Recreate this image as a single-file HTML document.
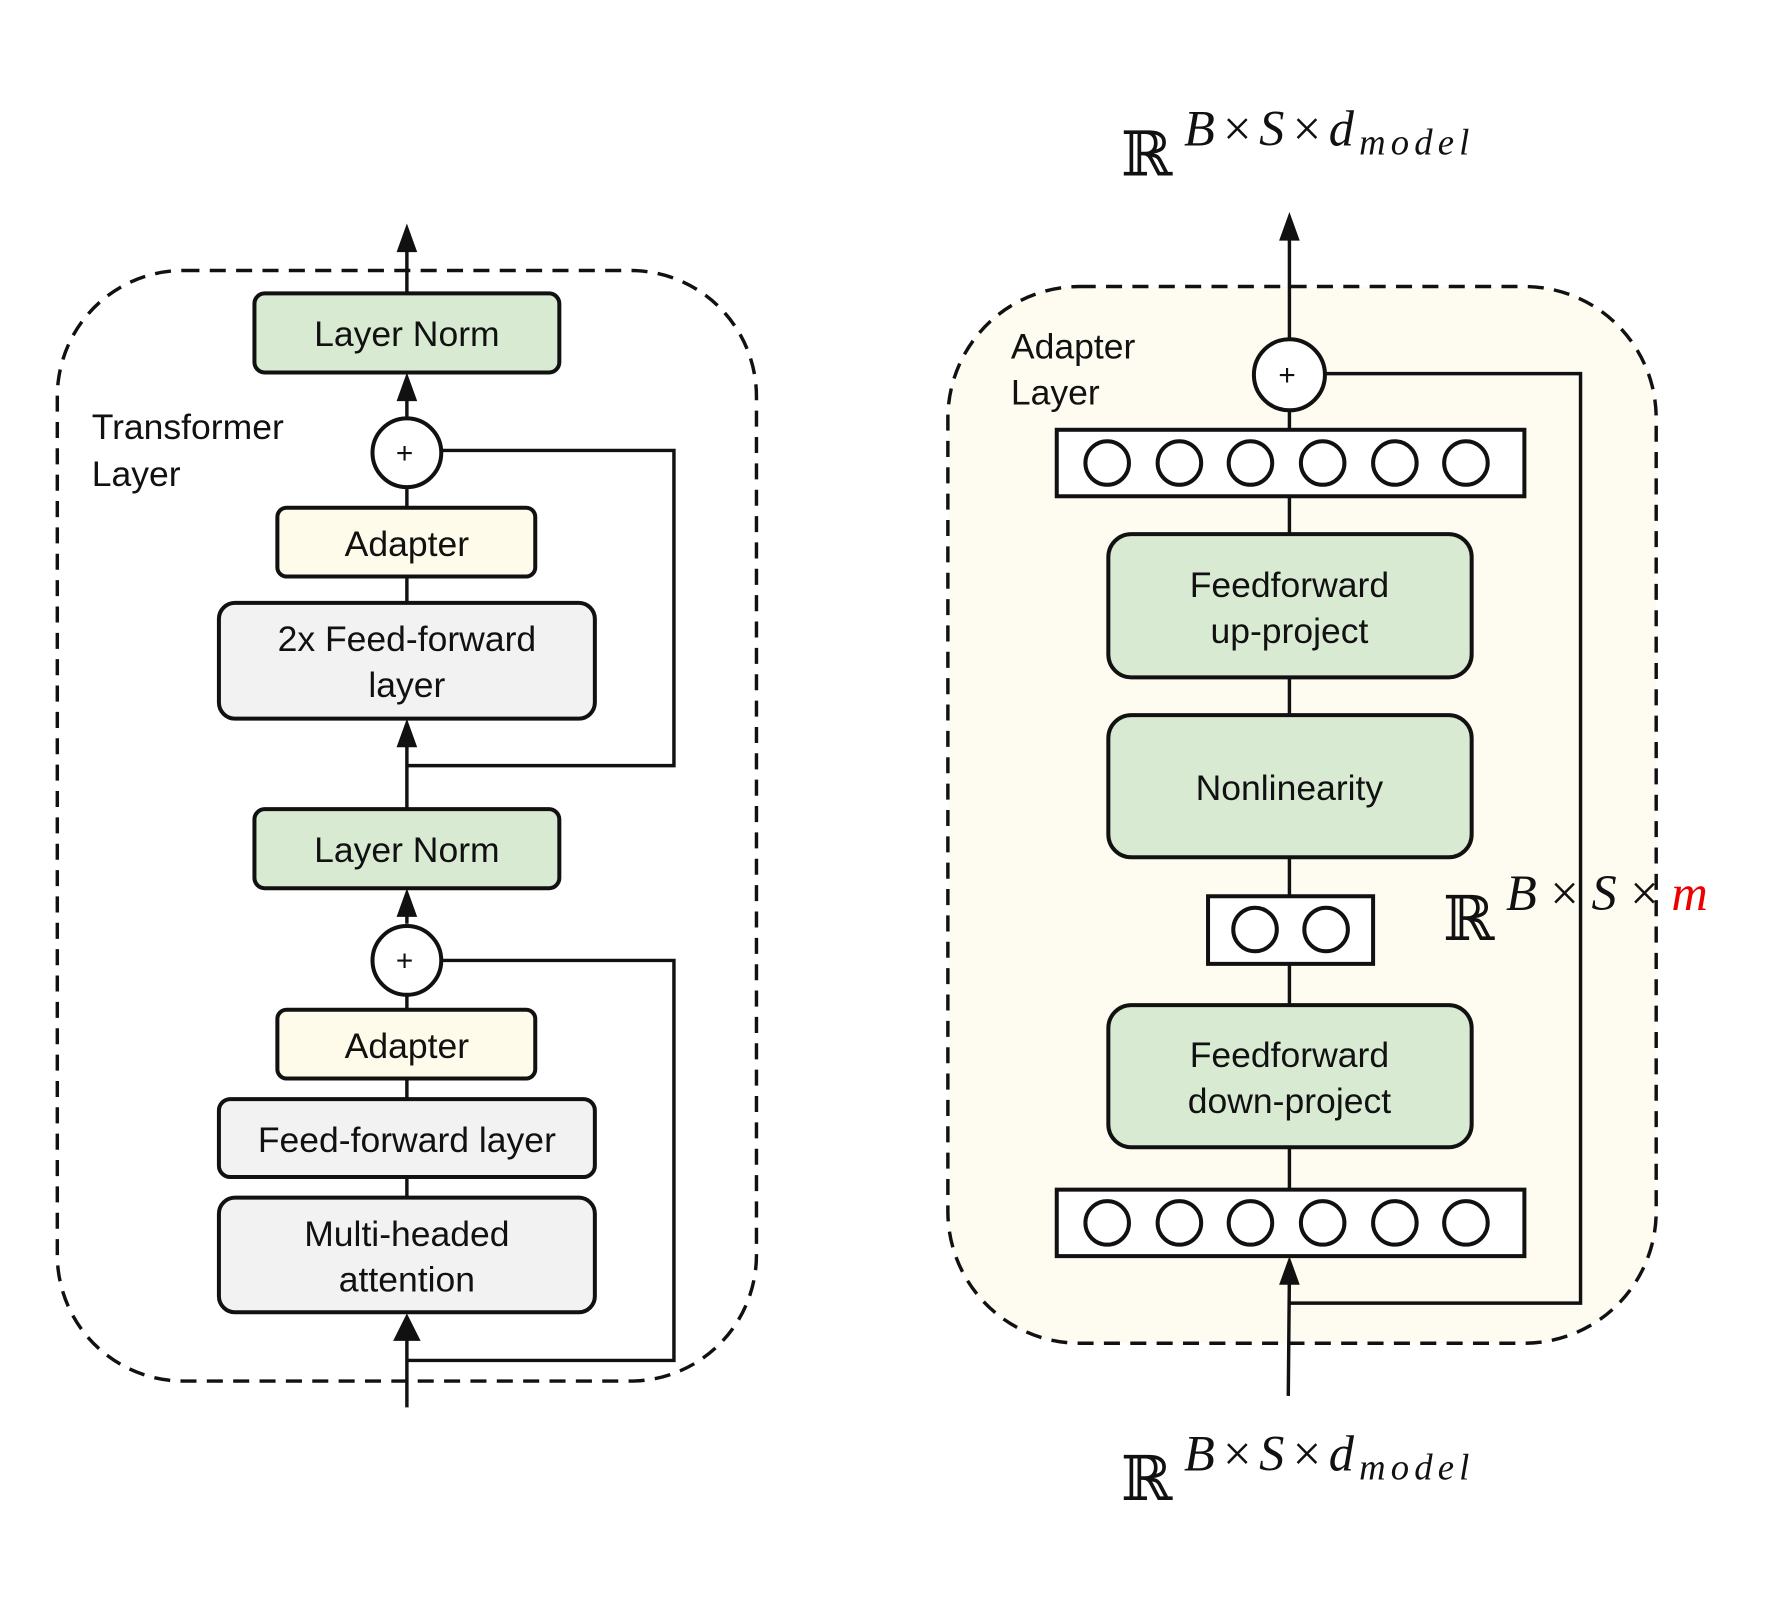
<!DOCTYPE html>
<html><head><meta charset="utf-8"><style>
html,body{margin:0;padding:0;background:#fff;width:1788px;height:1616px;overflow:hidden}
svg{display:block}
.t{font-family:"Liberation Sans",sans-serif;font-size:31px;fill:#111;text-anchor:middle}
.l{font-family:"Liberation Sans",sans-serif;font-size:31px;fill:#111}
.m{font-family:"Liberation Serif",serif;font-style:italic;fill:#111}
.b{stroke:#111;stroke-width:3.5}
</style></head><body>
<svg width="1788" height="1616" viewBox="0 0 1560 1410" preserveAspectRatio="none">
<g fill="none" stroke="#111" stroke-width="3">
<path d="M355,1228 V1150" /><path d="M355,1170 L343,1170 L355,1146 L367,1170 Z" fill="#111" stroke="none"/>
</g>
<rect x="50" y="236" width="610" height="969" rx="110" fill="none" stroke="#111" stroke-width="3" stroke-dasharray="14,9"/>
<g stroke="#111" stroke-width="3" fill="none">
<line x1="355" y1="256" x2="355" y2="205"/>
<line x1="355" y1="365" x2="355" y2="335"/>
<line x1="355" y1="425" x2="355" y2="443"/>
<line x1="355" y1="503" x2="355" y2="526"/>
<line x1="355" y1="706" x2="355" y2="637"/>
<polyline points="385,393 588,393 588,668 355,668"/>
<line x1="355" y1="806" x2="355" y2="785"/>
<line x1="355" y1="868" x2="355" y2="881"/>
<line x1="355" y1="941" x2="355" y2="959"/>
<line x1="355" y1="1027" x2="355" y2="1045"/>
<polyline points="385,838 588,838 588,1187 355,1187"/>
</g>
<g fill="#111">
<path d="M346,220 L355,195 L364,220 Z"/>
<path d="M346,350 L355,325 L364,350 Z"/>
<path d="M346,652 L355,627 L364,652 Z"/>
<path d="M346,800 L355,775 L364,800 Z"/>
</g>
<rect x="222" y="256" width="266" height="69" rx="9" fill="#d9ead3" class="b"/>
<text x="355" y="302" class="t">Layer Norm</text>
<text x="80" y="383" class="l">Transformer</text>
<text x="80" y="424" class="l">Layer</text>
<circle cx="355" cy="395" r="30" fill="#fff" class="b"/>
<text x="353" y="404" class="t" style="font-size:26px">+</text>
<rect x="242" y="443" width="225" height="60" rx="8" fill="#fefbea" class="b"/>
<text x="355" y="485" class="t">Adapter</text>
<rect x="191" y="526" width="328" height="101" rx="14" fill="#f2f2f2" class="b"/>
<text x="355" y="568" class="t">2x Feed-forward</text>
<text x="355" y="608" class="t">layer</text>
<rect x="222" y="706" width="266" height="69" rx="9" fill="#d9ead3" class="b"/>
<text x="355" y="752" class="t">Layer Norm</text>
<circle cx="355" cy="838" r="30" fill="#fff" class="b"/>
<text x="353" y="847" class="t" style="font-size:26px">+</text>
<rect x="242" y="881" width="225" height="60" rx="8" fill="#fefbea" class="b"/>
<text x="355" y="923" class="t">Adapter</text>
<rect x="191" y="959" width="328" height="68" rx="10" fill="#f2f2f2" class="b"/>
<text x="355" y="1005" class="t">Feed-forward layer</text>
<rect x="191" y="1045" width="328" height="100" rx="14" fill="#f2f2f2" class="b"/>
<text x="355" y="1087" class="t">Multi-headed</text>
<text x="355" y="1127" class="t">attention</text>
<rect x="827" y="250" width="618" height="922" rx="115" fill="#fefcf0" stroke="#111" stroke-width="3" stroke-dasharray="14,9"/>
<g stroke="#111" stroke-width="3" fill="none">
<line x1="1125" y1="297" x2="1125" y2="205"/>
<polyline points="1156,326 1379,326 1379,1137 1125,1137"/>
<line x1="1125" y1="358" x2="1125" y2="375"/>
<line x1="1125" y1="433" x2="1125" y2="466"/>
<line x1="1125" y1="591" x2="1125" y2="624"/>
<line x1="1125" y1="748" x2="1125" y2="782"/>
<line x1="1125" y1="841" x2="1125" y2="877"/>
<line x1="1125" y1="1001" x2="1125" y2="1038"/>
<line x1="1124" y1="1218" x2="1125" y2="1110"/>
</g>
<g fill="#111">
<path d="M1116,210 L1125,185 L1134,210 Z"/>
<path d="M1116,1121 L1125,1096 L1134,1121 Z"/>
</g>
<text x="882" y="313" class="l">Adapter</text>
<text x="882" y="353" class="l">Layer</text>
<circle cx="1125" cy="327" r="31" fill="#fff" class="b"/>
<text x="1123" y="336" class="t" style="font-size:26px">+</text>
<rect x="922" y="375" width="408" height="58" fill="#fff" class="b"/>
<g fill="#fff" class="b">
<circle cx="966" cy="404" r="19"/><circle cx="1029" cy="404" r="19"/><circle cx="1091" cy="404" r="19"/><circle cx="1154" cy="404" r="19"/><circle cx="1217" cy="404" r="19"/><circle cx="1279" cy="404" r="19"/>
</g>
<rect x="967" y="466" width="317" height="125" rx="20" fill="#d9ead3" class="b"/>
<text x="1125" y="521" class="t">Feedforward</text>
<text x="1125" y="561" class="t">up-project</text>
<rect x="967" y="624" width="317" height="124" rx="20" fill="#d9ead3" class="b"/>
<text x="1125" y="698" class="t">Nonlinearity</text>
<rect x="1054" y="782" width="144" height="59" fill="#fff" class="b"/>
<circle cx="1095" cy="811" r="19" fill="#fff" class="b"/><circle cx="1157" cy="811" r="19" fill="#fff" class="b"/>
<rect x="967" y="877" width="317" height="124" rx="20" fill="#d9ead3" class="b"/>
<text x="1125" y="931" class="t">Feedforward</text>
<text x="1125" y="971" class="t">down-project</text>
<rect x="922" y="1038" width="408" height="58" fill="#fff" class="b"/>
<g fill="#fff" class="b">
<circle cx="966" cy="1067" r="19"/><circle cx="1029" cy="1067" r="19"/><circle cx="1091" cy="1067" r="19"/><circle cx="1154" cy="1067" r="19"/><circle cx="1217" cy="1067" r="19"/><circle cx="1279" cy="1067" r="19"/>
</g>
<text x="978" y="153" style="font-family:'DejaVu Serif',serif;font-size:54px;fill:#111">ℝ</text>
<text x="1033" y="127" class="m" style="font-size:44px" textLength="249" lengthAdjust="spacing">B×S×d<tspan font-size="32" dy="8">model</tspan></text>
<text x="978" y="1309" style="font-family:'DejaVu Serif',serif;font-size:54px;fill:#111">ℝ</text>
<text x="1033" y="1283" class="m" style="font-size:44px" textLength="249" lengthAdjust="spacing">B×S×d<tspan font-size="32" dy="8">model</tspan></text>
<text x="1259" y="820" style="font-family:'DejaVu Serif',serif;font-size:54px;fill:#111">ℝ</text>
<text x="1314" y="794" class="m" style="font-size:44px" textLength="176" lengthAdjust="spacing">B×S×<tspan fill="#e00">m</tspan></text>
</svg>
</body></html>
